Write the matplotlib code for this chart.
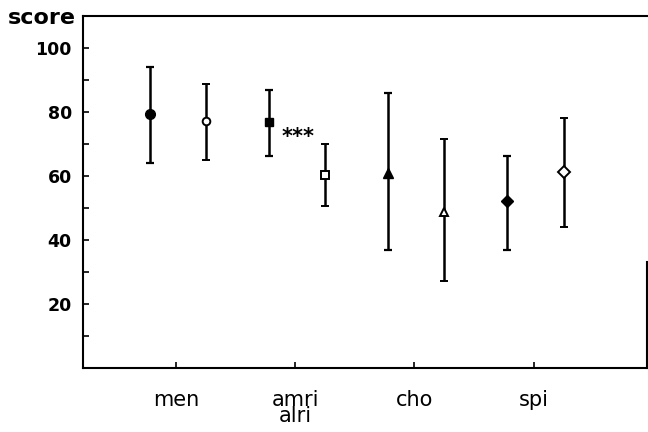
import numpy as np
import matplotlib.pyplot as plt

# ---- data ----
categories = ['men', 'amri\nalri', 'cho', 'spi']

filled_mean = [79.2, 76.8, 61.0, 52.3]
filled_low = [64.1, 66.1, 36.7, 36.9]
filled_high = [93.9, 86.9, 86.0, 66.2]

open_mean = [77.1, 60.4, 48.6, 61.3]
open_low = [64.8, 50.5, 27.1, 43.9]
open_high = [88.7, 69.8, 71.6, 78.2]

markers = ['o', 's', '^', 'D']
filled_sizes = [7.0, 6.0, 7.5, 6.0]
open_sizes = [5.5, 5.5, 6.0, 6.0]

fig = plt.figure(figsize=(6.48, 4.32), dpi=100)
ax = fig.add_axes([0.128, 0.148, 0.8705, 0.8157])

x = np.arange(1, len(categories) + 1)

for i in range(len(categories)):
    # filled marker (left)
    m = filled_mean[i]
    ax.errorbar(x[i] - 0.22, m,
                yerr=[[m - filled_low[i]], [filled_high[i] - m]],
                fmt=markers[i], color='black', mfc='black', mec='black',
                ms=filled_sizes[i], elinewidth=1.8, capsize=2.8, capthick=1.6)
    # open marker (right)
    m = open_mean[i]
    ax.errorbar(x[i] + 0.25, m,
                yerr=[[m - open_low[i]], [open_high[i] - m]],
                fmt=markers[i], color='black', mfc='white', mec='black',
                mew=1.4, ms=open_sizes[i], elinewidth=1.8, capsize=2.8, capthick=1.6,
                zorder=3)

# significance marker between amri / alri
ax.text(2.02, 72, '***', ha='center', va='center', fontsize=15, fontweight='bold')

ax.set_xlim(0.22, 4.95)
ax.set_ylim(0, 110)

ax.set_xticks(x)
ax.set_xticklabels(categories, fontsize=15, linespacing=0.75, va='top')
ax.set_yticks([20, 40, 60, 80, 100])
ax.set_yticklabels(['20', '40', '60', '80', '100'], fontsize=12.5, fontweight='bold')
ax.set_yticks([10, 30, 50, 70, 90], minor=True)

ax.tick_params(axis='both', which='both', direction='in', length=4, width=1.2)
ax.tick_params(axis='y', pad=8)
ax.tick_params(axis='x', pad=16)

for side in ['left', 'bottom', 'top', 'right']:
    ax.spines[side].set_linewidth(1.5)
ax.spines['right'].set_bounds(0, 33)

fig.text(0.012, 0.958, 'score', fontsize=16, fontweight='bold', va='center', ha='left')

plt.savefig('out.png', dpi=100)
